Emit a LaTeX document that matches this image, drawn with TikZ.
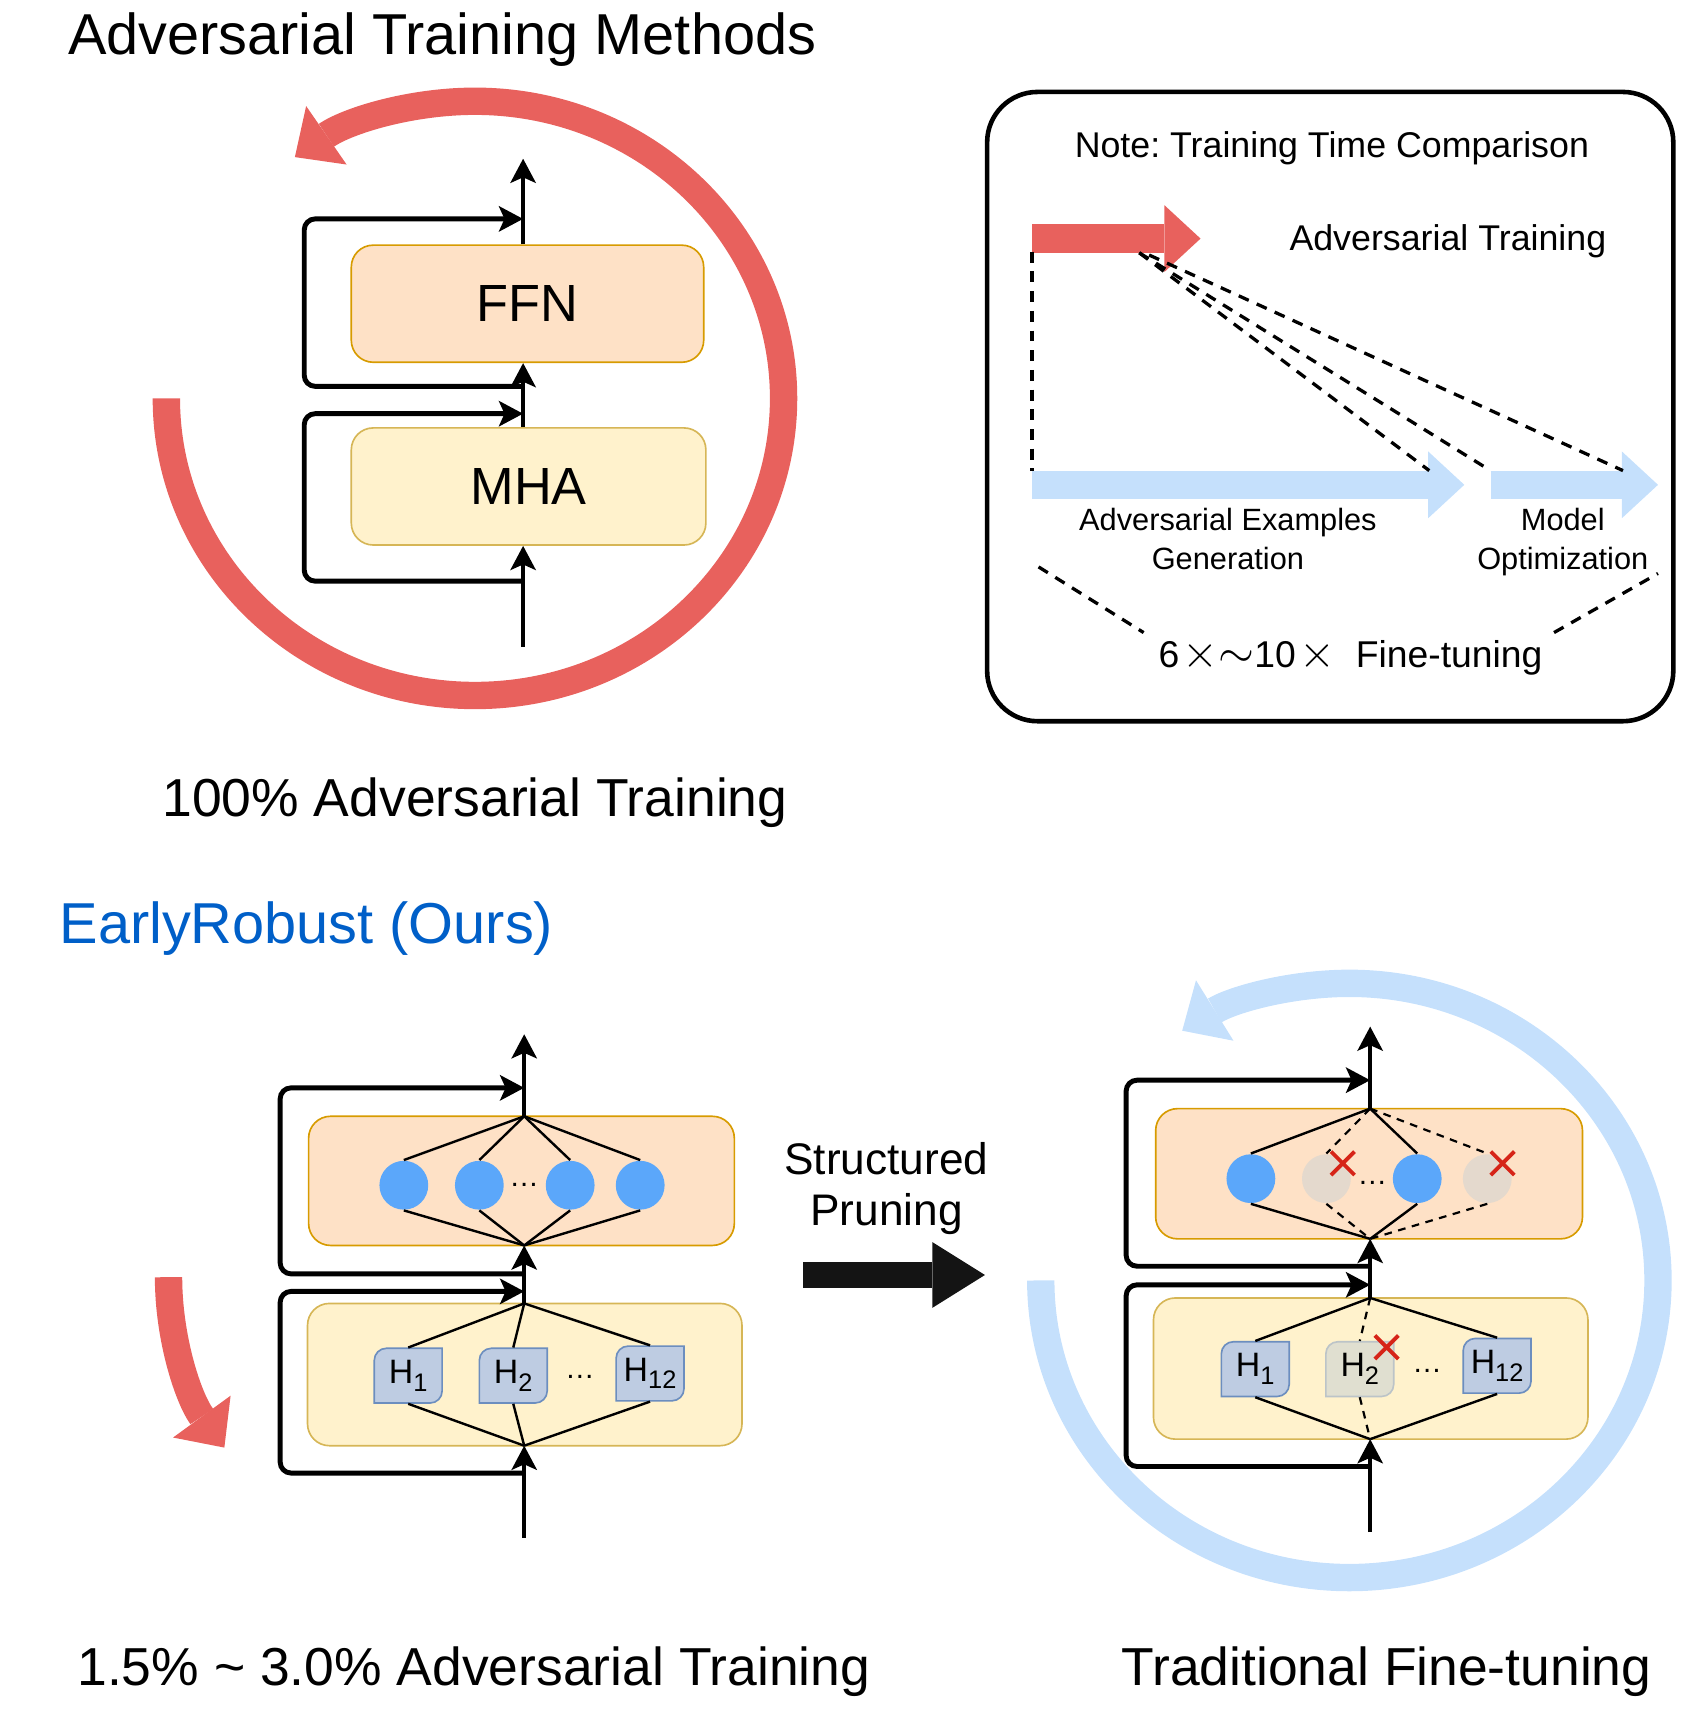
\documentclass[tikz,border=0pt]{standalone}
\usepackage{fontspec}
\setmainfont{Liberation Sans}
\usepackage{tikz}
\usetikzlibrary{arrows.meta, shapes.misc, calc}
\frenchspacing

\definecolor{advred}{RGB}{232,97,93}
\definecolor{ftblue}{RGB}{197,224,252}
\definecolor{ffnfill}{RGB}{254,225,198}
\definecolor{ffnline}{RGB}{215,155,0}
\definecolor{mhafill}{RGB}{255,242,204}
\definecolor{mhaline}{RGB}{214,182,86}
\definecolor{neuron}{RGB}{91,167,250}
\definecolor{prunedneuron}{RGB}{228,217,205}
\definecolor{headfill}{RGB}{190,204,226}
\definecolor{headline}{RGB}{108,142,191}
\definecolor{prunedhead}{RGB}{224,223,208}
\definecolor{prunedheadline}{RGB}{188,196,200}
\definecolor{crossred}{RGB}{214,36,24}
\definecolor{oursblue}{RGB}{0,95,200}

\newcommand\headname[1]{H\raisebox{-0.7mm}{\fontsize{6.6}{8}\selectfont #1}}
\newcommand\symsize{\fontsize{12.5}{12}\selectfont}

\tikzset{
  titletext/.style={font=\fontsize{15}{18}\selectfont, inner sep=0pt},
  labeltext/.style={font=\fontsize{13.9}{16}\selectfont, inner sep=0pt},
  notetext/.style={font=\fontsize{9.3}{11}\selectfont, inner sep=0pt},
  smalltext/.style={font=\fontsize{8}{10}\selectfont, inner sep=0pt},
  prunetext/.style={font=\fontsize{11.5}{13.4}\selectfont, inner sep=0pt},
  dotstext/.style={font=\fontsize{7.7}{9}\selectfont, inner sep=0pt, anchor=base},
  headtext/.style={font=\fontsize{8.8}{10}\selectfont, inner sep=0pt, minimum width=6.2mm, minimum height=5mm},
  ffnbox/.style={rectangle, rounded corners=2mm, draw=ffnline, fill=ffnfill, line width=0.15mm, font=\fontsize{13.6}{16}\selectfont},
  mhabox/.style={rectangle, rounded corners=2mm, draw=mhaline, fill=mhafill, line width=0.15mm, font=\fontsize{13.6}{16}\selectfont},
  notebox/.style={rectangle, rounded corners=4.6mm, draw=black, line width=0.42mm},
  neuron/.style={circle, fill=neuron, minimum size=4.46mm, inner sep=0pt},
  prunedneuron/.style={circle, fill=prunedneuron, minimum size=4.46mm, inner sep=0pt},
  prunemark/.style={cross out, draw=crossred, line width=0.35mm, minimum size=1.8mm, inner sep=0pt},
  flow/.style={line width=0.4mm, -{Stealth[length=2.2mm, width=2.3mm, inset=0.5mm]}},
  skip/.style={line width=0.45mm, rounded corners=1mm, -{Stealth[length=2.2mm, width=2.3mm, inset=0.5mm]}},
  wire/.style={line width=0.22mm},
  cutwire/.style={line width=0.2mm, dash pattern=on 0.7mm off 0.6mm},
  timedash/.style={line width=0.3mm, dash pattern=on 1mm off 0.8mm},
  bigloop/.style={line width=2.5mm, -{Triangle[length=3.5mm, width=6.5mm, line width=0pt]}},
  blockarrow/.style={line width=2.6mm, -{Triangle[length=3.3mm, width=6.1mm, line width=0pt]}},
}

\begin{document}
\begin{tikzpicture}[x=0.1mm, y=-0.1mm]
\useasboundingbox (0,0) rectangle (1553,1568);

% titles and captions
\node[titletext, anchor=base] (advtitle) at (404,50) {Adversarial Training Methods};
\node[labeltext, anchor=base] (advlabel) at (434,746) {100\% Adversarial Training};
\node[titletext, anchor=base, text=oursblue] (ourstitle) at (280,862) {EarlyRobust (Ours)};
\node[labeltext, anchor=base] (ourslabel) at (433,1540) {1.5\% \textasciitilde{} 3.0\% Adversarial Training};
\node[labeltext, anchor=base] (ftlabel) at (1267,1540) {Traditional Fine-tuning};

% full adversarial training
\draw[bigloop, advred] (152,364) arc[start angle=180, end angle=-125.7, x radius=282, y radius=271.5];
\node[ffnbox, minimum width=32.2mm, minimum height=10.7mm] (ffnA) at (482,277.5) {FFN};
\node[mhabox, minimum width=32.4mm, minimum height=10.7mm] (mhaA) at (483,444.5) {MHA};
\coordinate (inA) at (478,591);
\coordinate (outA) at (478,145);
\coordinate (resA1) at (478,531);
\coordinate (addA1) at (478,378);
\coordinate (resA2) at (478,353);
\coordinate (addA2) at (478,200);
\draw[flow] (inA) -- (inA |- mhaA.south);
\draw[flow] (inA |- mhaA.north) -- (inA |- ffnA.south);
\draw[flow] (inA |- ffnA.north) -- (outA);
\draw[skip] (resA1) -| (278,378) -- (addA1);
\draw[skip] (resA2) -| (278,200) -- (addA2);

% time comparison note
\node[notebox, minimum width=62.7mm, minimum height=57.5mm] (note) at (1215.5,371.5) {};
\node[notetext, anchor=base] (notetitle) at (1217,144) {Note: Training Time Comparison};
\node[notetext, anchor=base] (advname) at (1323,229) {Adversarial Training};
\coordinate (advS) at (943,218);
\coordinate (advE) at (1097,218);
\coordinate (advfoot) at (943,230);
\coordinate (advmid) at (1041,231);
\coordinate (advmid2) at (1050,233);
\coordinate (genS) at (943,443);
\coordinate (genE) at (1338,443);
\coordinate (optS) at (1362,443);
\coordinate (optE) at (1515,443);
\coordinate (genTL) at (943,430);
\coordinate (genTR) at (1306,430);
\coordinate (optTL) at (1362,430);
\coordinate (optTR) at (1483,430);
\draw[blockarrow, advred] (advS) -- (advE);
\draw[blockarrow, ftblue] (genS) -- (genE);
\draw[blockarrow, ftblue] (optS) -- (optE);
\draw[timedash] (advfoot) -- (genTL);
\draw[timedash] (advmid) -- (genTR);
\draw[timedash] (advmid) -- (optTL);
\draw[timedash] (advmid2) -- (optTR);
\node[smalltext, align=center, anchor=base] (genname) at (1122,520) {Adversarial Examples\\Generation};
\node[smalltext, align=center, anchor=base] (optname) at (1428,520) {Model\\Optimization};
\node[notetext, font=\fontsize{9.7}{11}\selectfont, anchor=base] (ratio) at (1234,610)
  {6\kern0.3mm{\symsize$\times{\sim}$}10\kern0.3mm{\symsize$\times$}\ \ Fine-tuning};
\coordinate (ftL1) at (949,518);
\coordinate (ftL2) at (1045,578);
\coordinate (ftR1) at (1420,578);
\coordinate (ftR2) at (1515,524);
\draw[timedash] (ftL1) -- (ftL2);
\draw[timedash] (ftR1) -- (ftR2);

% EarlyRobust: short adversarial training
\draw[bigloop, advred] (154,1167) arc[start angle=180, end angle=145, x radius=282, y radius=271.5];
\node[ffnbox, minimum width=38.9mm, minimum height=11.8mm] (ffnB) at (476.5,1079) {};
\node[mhabox, minimum width=39.7mm, minimum height=13mm] (mhaB) at (479.5,1256) {};
\coordinate (ftB) at (479,1020);
\coordinate (fbB) at (479,1138);
\coordinate (mtB) at (479,1191);
\coordinate (mbB) at (479,1321);
\coordinate (inB) at (479,1405);
\coordinate (outB) at (479,945);
\coordinate (resB1) at (479,1346);
\coordinate (addB1) at (479,1180);
\coordinate (resB2) at (479,1164);
\coordinate (addB2) at (479,994);
\foreach \i/\x in {1/369,2/438,3/521,4/585}
  \node[neuron] (nB\i) at (\x,1083) {};
\node[dotstext] (dotsnB) at (479,1084.5) {\dots};
\foreach \i in {1,...,4}
  \draw[wire] (ftB) -- (nB\i.north) (nB\i.south) -- (fbB);
\foreach \n/\x/\y/\k in {hB1/373/1257/1, hB2/469/1257/2, hB12/594/1255/12} {
  \filldraw[fill=headfill, draw=headline, line width=0.15mm] (\x-31,\y+25) -- (\x-31,\y-14) arc[start angle=180, end angle=270, radius=11] -- (\x+31,\y-25) -- (\x+31,\y+14) arc[start angle=0, end angle=90, radius=11] -- cycle;
  \node[headtext] (\n) at (\x,\y) {\headname{\k}};
}
\node[dotstext] (dotshB) at (530,1259.5) {\dots};
\foreach \n in {hB1,hB2,hB12}
  \draw[wire] (mtB) -- (\n.north) (\n.south) -- (mbB);
\draw[flow] (inB) -- (mbB);
\draw[flow] (mtB) -- (fbB);
\draw[flow] (ftB) -- (outB);
\draw[skip] (resB1) -| (256,1180) -- (addB1);
\draw[skip] (resB2) -| (256,994) -- (addB2);

% structured pruning
\node[prunetext, align=center, anchor=base] (prunename) at (810,1120) {Structured\\Pruning};
\coordinate (pruneS) at (734,1165);
\coordinate (pruneE) at (900,1165);
\draw[line width=2.4mm, -{Triangle[length=4.8mm, width=6mm, line width=0pt]}, black!92] (pruneS) -- (pruneE);

% traditional fine-tuning on the pruned model
\draw[bigloop, ftblue] (951,1170) arc[start angle=180, end angle=-122.8, x radius=282, y radius=271.5];
\node[ffnbox, minimum width=39mm, minimum height=11.9mm] (ffnC) at (1251,1072.5) {};
\node[mhabox, minimum width=39.7mm, minimum height=12.9mm] (mhaC) at (1252.5,1250.5) {};
\coordinate (ftC) at (1252,1013);
\coordinate (fbC) at (1252,1132);
\coordinate (mtC) at (1252,1186);
\coordinate (mbC) at (1252,1315);
\coordinate (inC) at (1252,1400);
\coordinate (outC) at (1252,938);
\coordinate (resC1) at (1252,1340);
\coordinate (addC1) at (1252,1174);
\coordinate (resC2) at (1252,1157);
\coordinate (addC2) at (1252,987);
\node[neuron] (nC1) at (1143,1077) {};
\node[prunedneuron] (nC2) at (1212,1077) {};
\node[neuron] (nC3) at (1295,1077) {};
\node[prunedneuron] (nC4) at (1359,1077) {};
\node[dotstext] (dotsnC) at (1254,1082.5) {\dots};
\foreach \i in {1,3}
  \draw[wire] (ftC) -- (nC\i.north) (nC\i.south) -- (fbC);
\foreach \i in {2,4}
  \draw[cutwire] (ftC) -- (nC\i.north) (nC\i.south) -- (fbC);
\foreach \n/\x/\y/\k/\c/\d in {hC1/1147/1251/1/headfill/headline, hC2/1242.5/1251/2/prunedhead/prunedheadline, hC12/1368/1248/12/headfill/headline} {
  \filldraw[fill=\c, draw=\d, line width=0.15mm] (\x-31,\y+25) -- (\x-31,\y-14) arc[start angle=180, end angle=270, radius=11] -- (\x+31,\y-25) -- (\x+31,\y+14) arc[start angle=0, end angle=90, radius=11] -- cycle;
  \node[headtext] (\n) at (\x,\y) {\headname{\k}};
}
\node[dotstext] (dotshC) at (1304,1254.5) {\dots};
\foreach \n in {hC1,hC12}
  \draw[wire] (mtC) -- (\n.north) (\n.south) -- (mbC);
\draw[cutwire] (mtC) -- (hC2.north) (hC2.south) -- (mbC);
\node[prunemark] (xC2) at (1227,1063) {};
\node[prunemark] (xC4) at (1373,1063) {};
\node[prunemark] (xhC2) at (1267,1231) {};
\draw[flow] (inC) -- (mbC);
\draw[flow] (mtC) -- (fbC);
\draw[flow] (ftC) -- (outC);
\draw[skip] (resC1) -| (1029,1174) -- (addC1);
\draw[skip] (resC2) -| (1029,987) -- (addC2);
\end{tikzpicture}
\end{document}
